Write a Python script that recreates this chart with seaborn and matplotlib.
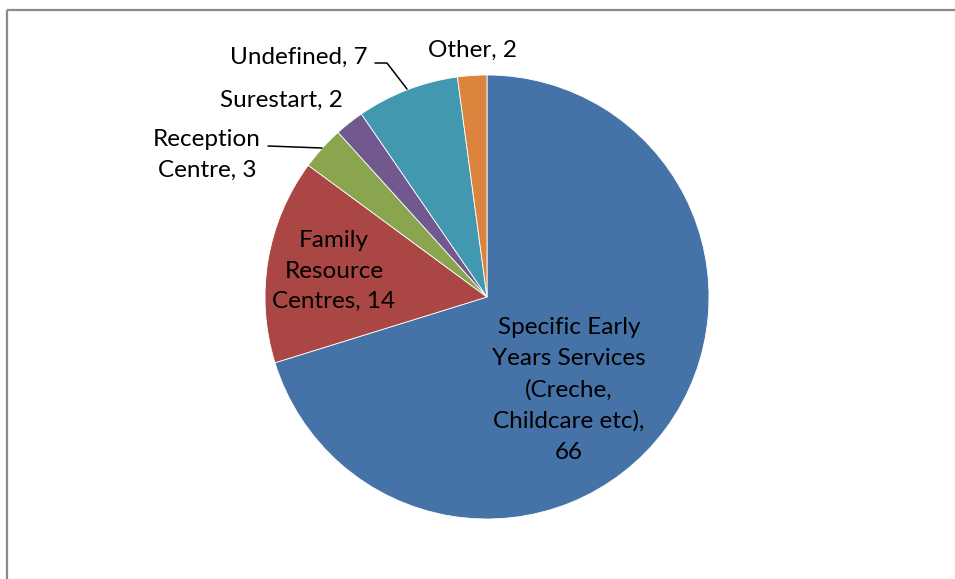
import matplotlib
matplotlib.use("Agg")
import matplotlib.pyplot as plt
from matplotlib.patches import Rectangle
import seaborn as sns

# Service categories and counts
categories = ["Specific Early\nYears Services\n(Creche,\nChildcare etc)",
              "Family\nResource\nCentres",
              "Reception\nCentre",
              "Surestart",
              "Undefined",
              "Other"]
counts = [66, 14, 3, 2, 7, 2]
colors = ["#4572A7", "#AA4643", "#89A54E", "#71588F", "#4198AF", "#DB843D"]

sns.set_theme(style="white")
plt.rcParams["font.family"] = ["Lato", "DejaVu Sans"]
palette = sns.color_palette(colors)

W, H = 955, 579
fig = plt.figure(figsize=(W / 100, H / 100), dpi=100)
ax = fig.add_axes([0, 0, 1, 1])

cx, cy, r = 487, 297, 222
# y axis runs downward, so start at -90 and go "counterclockwise" to sweep clockwise from 12 o'clock
wedges, _ = ax.pie(counts, colors=palette, startangle=-90, counterclock=True,
                   center=(cx, cy), radius=r, frame=True,
                   wedgeprops=dict(edgecolor="white", linewidth=0.6))
ax.set_xlim(0, W)
ax.set_ylim(H, 0)
ax.set_aspect("equal")
ax.axis("off")

# Outer chart border
fig.patches.append(Rectangle((6.5 / W, 1 - 9.5 / H), 1.2, -1.2,
                             transform=fig.transFigure, fill=False,
                             edgecolor="#8a8a8a", linewidth=1.6))

fs = 17.5
kw = dict(fontsize=fs, color="black", linespacing=1.57)
lbl = [f"{c}, {v}" for c, v in zip(categories, counts)]
lbl[0] = f"{categories[0]},\n{counts[0]}"
ax.text(569, 390, lbl[0], ha="center", va="center", **kw)
ax.text(334, 271, lbl[1], ha="center", va="center", **kw)
ax.text(207, 155, lbl[2], ha="center", va="center", **kw)
ax.text(281, 100, lbl[3], ha="center", va="center", **kw)
ax.text(368, 57, lbl[4], ha="right", va="center", **kw)
ax.text(472, 50, lbl[5], ha="center", va="center", **kw)

# Leader lines
ax.plot([268, 322], [146, 148], color="black", lw=1.1)
ax.plot([375, 387, 407], [63, 63, 89], color="black", lw=1.1)

fig.savefig("out.png", dpi=100)
